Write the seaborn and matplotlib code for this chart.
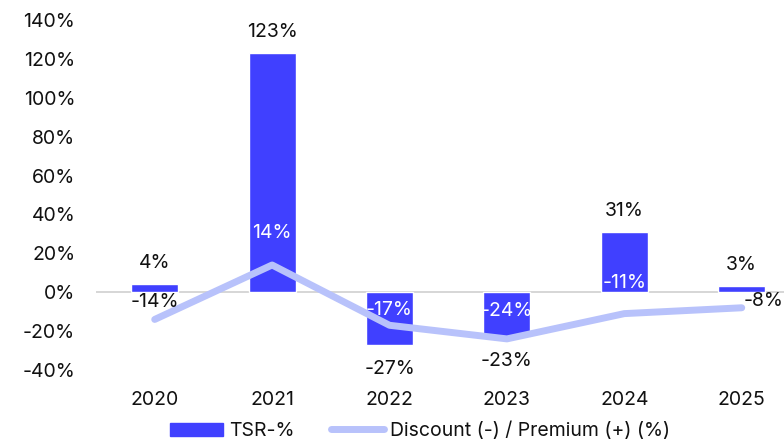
import matplotlib
matplotlib.use("Agg")
import matplotlib.pyplot as plt
import seaborn as sns
import numpy as np
import pandas as pd
from matplotlib.patches import Patch
from matplotlib.lines import Line2D

years = ["2020", "2021", "2022", "2023", "2024", "2025"]
tsr = [4, 123, -27, -23, 31, 3]
discount = [-14, 14, -17, -24, -11, -8]
yticks = [-40, -20, 0, 20, 40, 60, 80, 100, 120, 140]

BAR = "#4040ff"
LINE = "#b8c2fb"
FS = 14

sns.set_theme(style="white")
plt.rcParams["font.family"] = ["Inter", "DejaVu Sans"]

fig = plt.figure(figsize=(7.84, 4.42), dpi=100)
ax = fig.add_axes([96/784, 1 - 370/442, 1 - 96/784, 350/442])

df = pd.DataFrame({"year": years, "tsr": tsr, "disc": discount})
sns.barplot(data=df, x="year", y="tsr", color=BAR, width=0.4, saturation=1, ax=ax)
sns.lineplot(x=np.arange(len(years)), y=df["disc"], color=LINE, linewidth=5, ax=ax,
             solid_capstyle="round", solid_joinstyle="round")

ax.axhline(0, color="#d0d0d0", linewidth=1.2, zorder=0.5)

ax.set_ylim(-40, 140)
ax.set_xlim(-0.5, 5.36)
ax.set_yticks(yticks)
ax.set_yticklabels([f"{v}%" for v in yticks], fontsize=FS, color="#111111")
ax.tick_params(axis="y", length=0, pad=15)
ax.tick_params(axis="x", length=0, pad=15, labelsize=FS, labelcolor="#111111")
ax.set_xlabel("")
ax.set_ylabel("")
for s in ax.spines.values():
    s.set_visible(False)

# bar labels
for i, v in enumerate(tsr):
    off = 21 if v >= 0 else -24
    ax.annotate(f"{v}%", (i, v), xytext=(0, off * 0.72), textcoords="offset points",
                ha="center", va="center", fontsize=FS, color="#111111")

# line labels
line_offsets = [(0, 17), (0, 32), (0, 15), (0, 28), (0, 31), (22, 7)]
line_colors = ["#111111", "white", "white", "white", "white", "#111111"]
for i, v in enumerate(discount):
    dx, dy = line_offsets[i]
    ax.annotate(f"{v}%", (i, v), xytext=(dx * 0.72, dy * 0.72), textcoords="offset points",
                ha="center", va="center", fontsize=FS, color=line_colors[i])

handles = [Patch(color=BAR, label="TSR-%"),
           Line2D([0], [0], color=LINE, linewidth=5, solid_capstyle="round",
                  label="Discount (-) / Premium (+) (%)")]
fig.legend(handles=handles, loc="center", bbox_to_anchor=(420/784, 1 - 431/442), ncol=2,
           frameon=False, fontsize=FS, handlelength=2.7, handleheight=0.7,
           columnspacing=1.9, handletextpad=0.3, labelcolor="#111111")

fig.savefig("out.png", dpi=100)
